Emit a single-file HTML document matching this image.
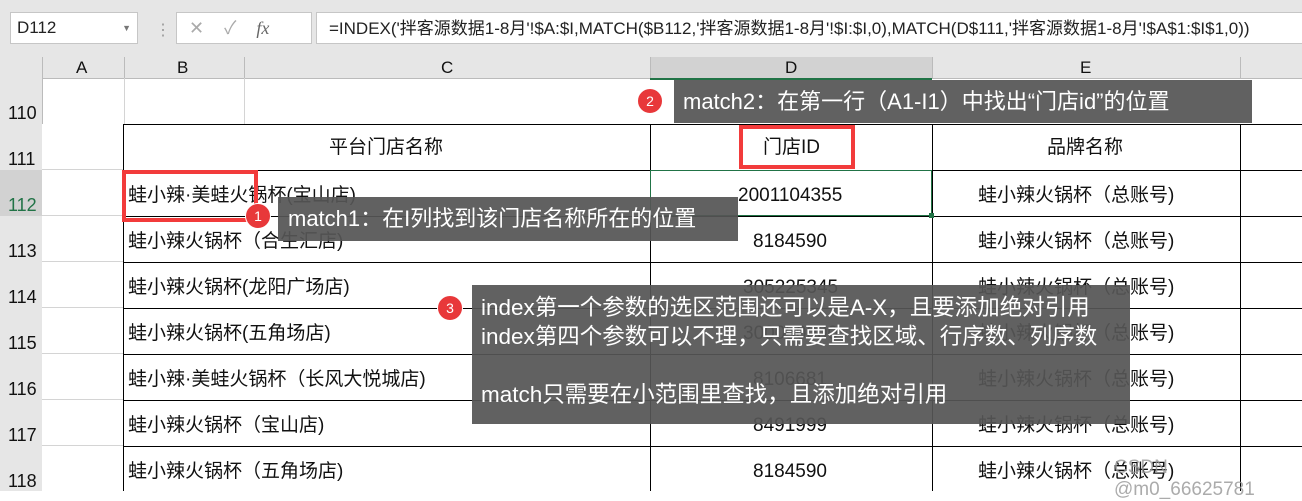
<!DOCTYPE html>
<html><head><meta charset="utf-8"><style>
body{margin:0;width:1302px;height:491px;overflow:hidden;background:#fff;font-family:"Liberation Sans","Noto Sans CJK SC",sans-serif;position:relative}
.a{position:absolute}
.t{position:absolute;font-size:19px;color:#111;white-space:nowrap;line-height:22px}
.hl{position:absolute;height:1px;background:#000}
.vl{position:absolute;width:1px;background:#000}
.ov{position:absolute;background:rgba(85,85,85,0.93);color:#fff;font-size:22px;white-space:nowrap}
.c{position:absolute;width:24px;height:24px;border-radius:50%;background:#e8383a;color:#fff;font-size:14px;text-align:center;line-height:24px;border:1px solid #fff}
.rr{position:absolute;border:4px solid #f23b3b}
</style></head><body>
<div class="a" style="left:0;top:0;width:1302px;height:57px;background:#e6e6e6"></div>
<div class="a" style="left:10px;top:12px;width:126px;height:30px;background:#fff;border:1px solid #c6c6c6;font-size:17px;line-height:30px;text-indent:6px;color:#222">D112<span style="position:absolute;right:6px;font-size:9px;color:#777">▼</span></div>
<div class="a" style="left:155px;top:20px;color:#999">⋮</div>
<div class="a" style="left:176px;top:12px;width:134px;height:30px;background:#fff;border:1px solid #c6c6c6;color:#aaa;font-size:18px;line-height:30px"><span style="margin-left:12px">✕</span><span style="margin-left:20px">✓</span><i style="margin-left:20px;color:#666;font-family:'Liberation Serif'">fx</i></div>
<div class="a" style="left:316px;top:12px;width:990px;height:30px;background:#fff;border:1px solid #c6c6c6;font-size:17px;line-height:32px;text-indent:12px;color:#222;white-space:nowrap">=INDEX('拌客源数据1-8月'!$A:$I,MATCH($B112,'拌客源数据1-8月'!$I:$I,0),MATCH(D$111,'拌客源数据1-8月'!$A$1:$I$1,0))</div>
<div class="a" style="left:0;top:57px;width:1302px;height:21px;background:#e6e6e6;border-bottom:1px solid #bbb"></div>
<div class="a" style="left:650px;top:57px;width:282px;height:21px;background:#d2d2d2;border-bottom:2px solid #217346"></div>
<div class="a" style="left:0;top:57px;width:42px;height:434px;background:#e6e6e6;border-right:1px solid #bbb"></div>
<div class="a" style="left:0;top:170px;width:42px;height:46px;background:#d2d2d2;border-right:2px solid #217346"></div>
<div class="a" style="left:124px;top:57px;width:1px;height:21px;background:#bbb"></div>
<div class="a" style="left:244px;top:57px;width:1px;height:21px;background:#bbb"></div>
<div class="a" style="left:650px;top:57px;width:1px;height:21px;background:#bbb"></div>
<div class="a" style="left:932px;top:57px;width:1px;height:21px;background:#bbb"></div>
<div class="a" style="left:1240px;top:57px;width:1px;height:21px;background:#bbb"></div>
<div class="t" style="left:76px;top:57px;font-size:17px">A</div>
<div class="t" style="left:177px;top:57px;font-size:17px">B</div>
<div class="t" style="left:441px;top:57px;font-size:17px">C</div>
<div class="t" style="left:785px;top:57px;font-size:17px">D</div>
<div class="t" style="left:1080px;top:57px;font-size:17px">E</div>
<div class="a" style="left:124px;top:78px;width:1px;height:46px;background:#d4d4d4"></div>
<div class="a" style="left:244px;top:78px;width:1px;height:46px;background:#d4d4d4"></div>
<div class="a" style="left:42px;top:124px;width:82px;height:367px;background:repeating-linear-gradient(#fff 0 45px,#d4d4d4 45px 46px)"></div>
<div class="t" style="left:8px;top:102px;font-size:18px">110</div>
<div class="t" style="left:8px;top:148px;font-size:18px">111</div>
<div class="t" style="left:8px;top:194px;font-size:18px;color:#217346">112</div>
<div class="t" style="left:8px;top:240px;font-size:18px">113</div>
<div class="t" style="left:8px;top:286px;font-size:18px">114</div>
<div class="t" style="left:8px;top:332px;font-size:18px">115</div>
<div class="t" style="left:8px;top:378px;font-size:18px">116</div>
<div class="t" style="left:8px;top:424px;font-size:18px">117</div>
<div class="t" style="left:8px;top:470px;font-size:18px">118</div>
<div class="hl" style="left:124px;top:124px;width:1178px"></div>
<div class="hl" style="left:124px;top:170px;width:1178px"></div>
<div class="hl" style="left:124px;top:216px;width:1178px"></div>
<div class="hl" style="left:124px;top:262px;width:1178px"></div>
<div class="hl" style="left:124px;top:308px;width:1178px"></div>
<div class="hl" style="left:124px;top:354px;width:1178px"></div>
<div class="hl" style="left:124px;top:400px;width:1178px"></div>
<div class="hl" style="left:124px;top:446px;width:1178px"></div>
<div class="vl" style="left:123px;top:124px;height:367px"></div>
<div class="vl" style="left:650px;top:124px;height:367px"></div>
<div class="vl" style="left:932px;top:124px;height:367px"></div>
<div class="vl" style="left:1240px;top:124px;height:367px"></div>
<div class="a" style="left:650px;top:170px;width:280px;height:44px;border:1px solid #217346"></div>
<div class="a" style="left:929px;top:213px;width:5px;height:5px;background:#217346"></div>
<div class="t" style="left:329px;top:137px">平台门店名称</div>
<div class="t" style="left:763px;top:137px">门店ID</div>
<div class="t" style="left:1047px;top:137px">品牌名称</div>
<div class="t" style="left:128px;top:185px">蛙小辣·美蛙火锅杯(宝山店)</div>
<div class="t" style="left:128px;top:231px">蛙小辣火锅杯（合生汇店)</div>
<div class="t" style="left:128px;top:277px">蛙小辣火锅杯(龙阳广场店)</div>
<div class="t" style="left:128px;top:323px">蛙小辣火锅杯(五角场店)</div>
<div class="t" style="left:128px;top:369px">蛙小辣·美蛙火锅杯（长风大悦城店)</div>
<div class="t" style="left:128px;top:415px">蛙小辣火锅杯（宝山店)</div>
<div class="t" style="left:128px;top:461px">蛙小辣火锅杯（五角场店)</div>
<div class="t" style="left:738px;top:185px">2001104355</div>
<div class="t" style="left:753px;top:231px">8184590</div>
<div class="t" style="left:743px;top:277px">305225345</div>
<div class="t" style="left:743px;top:323px">300050000</div>
<div class="t" style="left:753px;top:369px">8106681</div>
<div class="t" style="left:753px;top:415px">8491999</div>
<div class="t" style="left:753px;top:461px">8184590</div>
<div class="t" style="left:978px;top:185px">蛙小辣火锅杯（总账号)</div>
<div class="t" style="left:978px;top:231px">蛙小辣火锅杯（总账号)</div>
<div class="t" style="left:978px;top:277px">蛙小辣火锅杯（总账号)</div>
<div class="t" style="left:978px;top:323px">蛙小辣火锅杯（总账号)</div>
<div class="t" style="left:978px;top:369px">蛙小辣火锅杯（总账号)</div>
<div class="t" style="left:978px;top:415px">蛙小辣火锅杯（总账号)</div>
<div class="t" style="left:978px;top:461px">蛙小辣火锅杯（总账号)</div>
<div class="rr" style="left:739px;top:125px;width:108px;height:36px"></div>
<div class="rr" style="left:122px;top:170px;width:128px;height:44px"></div>
<div class="ov" style="left:674px;top:80px;width:578px;height:43px;line-height:43px;text-indent:9px">match2：在第一行（A1-I1）中找出“门店id”的位置</div>
<div class="c" style="left:637px;top:88px">2</div>
<div class="ov" style="left:278px;top:197px;width:460px;height:44px;line-height:44px;text-indent:10px">match1：在I列找到该门店名称所在的位置</div>
<div class="c" style="left:245px;top:203px">1</div>
<div class="ov" style="left:472px;top:285px;width:658px;height:139px;padding:0 0 0 9px;box-sizing:border-box;line-height:29px;padding-top:8px;font-size:22.5px">index第一个参数的选区范围还可以是A-X，且要添加绝对引用<br>index第四个参数可以不理，只需要查找区域、行序数、列序数<br><br>match只需要在小范围里查找，且添加绝对引用</div>
<div class="c" style="left:437px;top:295px">3</div>
<div class="a" style="left:1114px;top:457px;font-size:19px;line-height:22px;color:rgba(150,150,150,0.8)">CSDN @m0_66625781</div>
</body></html>
